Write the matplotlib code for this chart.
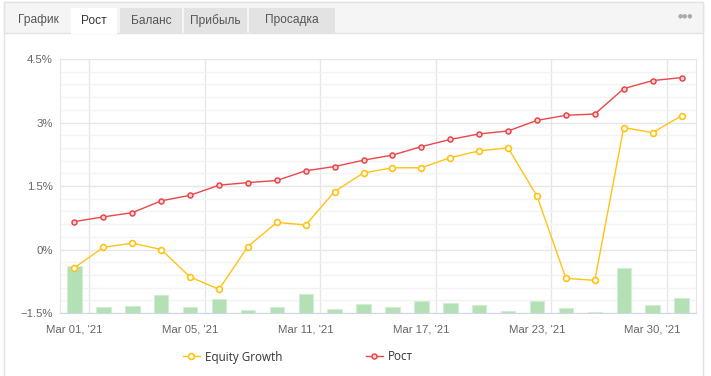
import matplotlib
matplotlib.use("Agg")
import matplotlib.pyplot as plt
from matplotlib.patches import Rectangle

# data (percent)
dates = ["Mar 01, '21", "Mar 02, '21", "Mar 03, '21", "Mar 04, '21", "Mar 05, '21",
         "Mar 08, '21", "Mar 09, '21", "Mar 10, '21", "Mar 11, '21", "Mar 12, '21",
         "Mar 15, '21", "Mar 16, '21", "Mar 17, '21", "Mar 18, '21", "Mar 19, '21",
         "Mar 22, '21", "Mar 23, '21", "Mar 24, '21", "Mar 25, '21", "Mar 26, '21",
         "Mar 30, '21", "Mar 31, '21"]
equity = [-0.43, 0.05, 0.15, 0.0, -0.65, -0.94, 0.07, 0.64, 0.58, 1.37, 1.81,
          1.93, 1.93, 2.17, 2.33, 2.40, 1.26, -0.68, -0.73, 2.88, 2.76, 3.16]
growth = [0.66, 0.77, 0.87, 1.15, 1.28, 1.52, 1.58, 1.63, 1.86, 1.96, 2.11,
          2.23, 2.43, 2.60, 2.73, 2.80, 3.05, 3.17, 3.20, 3.80, 3.99, 4.06]
bars = [1.12, 0.15, 0.175, 0.435, 0.15, 0.34, 0.08, 0.15, 0.46, 0.105, 0.22,
        0.15, 0.29, 0.245, 0.2, 0.05, 0.29, 0.12, 0.035, 1.07, 0.2, 0.365]
yticks = [-1.5, 0, 1.5, 3, 4.5]
ylabels = ["\u22121.5%", "0%", "1.5%", "3%", "4.5%"]
tabs = ["График", "Рост", "Баланс", "Прибыль", "Просадка"]

W, H = 711, 376
fig = plt.figure(figsize=(W / 100, H / 100), dpi=100)

# background layer in pixel coords for the panel / tabs
bg = fig.add_axes([0, 0, 1, 1], zorder=-5)
bg.set_xlim(0, W)
bg.set_ylim(H, 0)
bg.axis("off")
bg.add_patch(Rectangle((4, 2), 699, 380, facecolor="white", edgecolor="#e3e3e3", lw=1))
bg.add_patch(Rectangle((4, 2), 699, 31, facecolor="#f5f5f5", edgecolor="#e3e3e3", lw=1))
tab_box = [(7, 63), (70.5, 46), (120, 62), (183.5, 63), (248.5, 86.5)]
tab_bg = [None, "white", "#e3e3e3", "#e3e3e3", "#e3e3e3"]
for (x0, w), c, name in zip(tab_box, tab_bg, tabs):
    if c:
        bg.add_patch(Rectangle((x0, 7.5), w, 26.5, facecolor=c, edgecolor="none"))
    bg.text(x0 + w / 2, 20.5, name, ha="center", va="center", fontsize=8.6,
            family="Liberation Sans", color="#333" if name == "Рост" else "#555")
bg.text(685, 15.5, "\u25cf\u25cf\u25cf", ha="center", va="center", fontsize=4.2,
        color="#aaa", family="DejaVu Sans")

ax = fig.add_axes([60 / W, 1 - 313 / H, 636 / W, 254 / H])
x = list(range(len(dates)))

ax.bar(x, bars, bottom=-1.5, width=0.5, color="#b4e0b5", edgecolor="#d4eed4",
       lw=0.8, zorder=2)
ax.plot(x, equity, color="#ffc314", lw=1, marker="o", ms=4.2, mfc="white",
        mec="#ffc314", mew=1.2, zorder=4, label="Equity Growth")
ax.plot(x, growth, color="#e9474a", lw=1, marker="o", ms=3.6, mfc="#f9d6d6",
        mec="#e9474a", mew=1.1, zorder=5, label="Рост")

ax.set_xlim(-0.5, len(dates) - 0.5)
ax.set_ylim(-1.5, 4.5)
ax.set_yticks(yticks)
ax.set_yticklabels(ylabels)
ax.set_yticks([v / 10 for v in range(-15, 46, 3)], minor=True)
ax.set_xticks(x[::4])
ax.set_xticklabels(dates[::4])
ax.set_xticks([i + 0.5 for i in x[::4]], minor=True)
ax.tick_params(which="both", length=0)
ax.tick_params(axis="y", pad=5, labelsize=8.2, labelcolor="#666")
ax.tick_params(axis="x", pad=8, labelsize=8.2, labelcolor="#666")
for lab in ax.get_xticklabels() + ax.get_yticklabels():
    lab.set_family("Liberation Sans")

ax.set_axisbelow(True)
ax.grid(which="major", axis="y", color="#e6e6e6", lw=1)
ax.grid(which="minor", axis="y", color="#f3f3f3", lw=1)
ax.grid(which="minor", axis="x", color="#e6e6e6", lw=1)
ax.spines["top"].set_visible(False)
ax.spines["left"].set_color("#e6e6e6")
ax.spines["right"].set_color("#e6e6e6")
ax.spines["bottom"].set_color("#ccd6eb")

leg = ax.legend(loc="center", bbox_to_anchor=(298 / W, 1 - 357 / H),
                bbox_transform=fig.transFigure, ncol=2, frameon=False,
                handlelength=1.4, handletextpad=0.45, columnspacing=7.2,
                prop={"family": "Open Sans", "size": 8.4})
for t in leg.get_texts():
    t.set_color("#333")

fig.savefig("out.png", dpi=100)
